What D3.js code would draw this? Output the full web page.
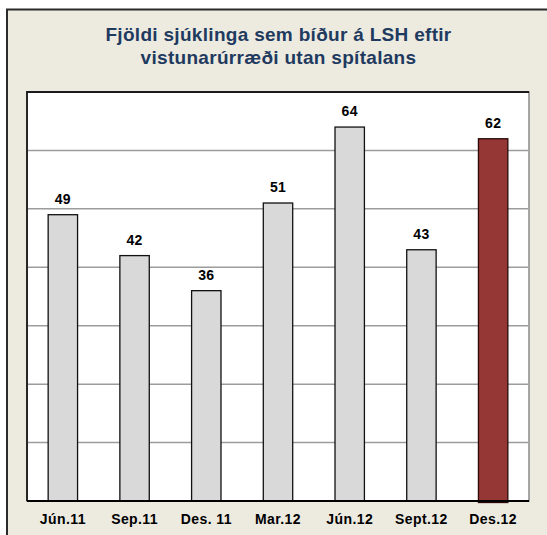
<!DOCTYPE html>
<html>
<head>
<meta charset="utf-8">
<script src="https://cdn.jsdelivr.net/npm/d3@7"></script>
<style>
  html, body { margin: 0; padding: 0; background: #ffffff; }
  svg { display: block; font-family: "Liberation Sans", Arial, sans-serif; }
</style>
</head>
<body>
<svg id="chart" width="547" height="535"></svg>
<script>
const titleLines = ["Fjöldi sjúklinga sem bíður á LSH eftir", "vistunarúrræði utan spítalans"];
const categories = ["Jún.11", "Sep.11", "Des. 11", "Mar.12", "Jún.12", "Sept.12", "Des.12"];
const values = [49, 42, 36, 51, 64, 43, 62];
const highlighted = ["Des.12"];
const yTicks = [0, 10, 20, 30, 40, 50, 60, 70];

const svg = d3.select("#chart");
const plot = { left: 27, right: 529, top: 92, bottom: 501 };

// outer frame
svg.append("rect")
  .attr("x", 7).attr("y", 9.5).attr("width", 600).attr("height", 600)
  .attr("fill", "#EDEAE0").attr("stroke", "#2b2b2b").attr("stroke-width", 2);

// title
const title = svg.append("text")
  .attr("text-anchor", "middle")
  .attr("font-size", 19).attr("font-weight", "bold")
  .attr("letter-spacing", 0.3)
  .attr("fill", "#1F3A5F");
titleLines.forEach((t, i) => {
  title.append("tspan").attr("x", 278.5).attr("y", 40.7 + i * 23.6).text(t);
});

// plot area
svg.append("rect")
  .attr("x", plot.left).attr("y", plot.top)
  .attr("width", plot.right - plot.left).attr("height", plot.bottom - plot.top)
  .attr("fill", "#ffffff").attr("stroke", "#8a8a8a").attr("stroke-width", 1.5);
svg.append("path")
  .attr("d", `M${plot.left},${plot.bottom} V${plot.top} H${plot.right}`)
  .attr("fill", "none").attr("stroke", "#1a1a1a").attr("stroke-width", 1.8);

const y = d3.scaleLinear().domain([0, 70]).range([plot.bottom, plot.top]);
const x = d3.scaleBand().domain(categories)
  .range([plot.left, plot.right]).paddingInner(0.59).paddingOuter(0.295);

// gridlines
svg.append("g").selectAll("line")
  .data(yTicks.filter(t => t > 0 && t < 70))
  .join("line")
  .attr("x1", plot.left + 1).attr("x2", plot.right - 1)
  .attr("y1", d => y(d)).attr("y2", d => y(d))
  .attr("stroke", "#9c9c9c").attr("stroke-width", 1.5);

// bars
svg.append("g").selectAll("rect")
  .data(categories)
  .join("rect")
  .attr("x", d => x(d)).attr("width", x.bandwidth())
  .attr("y", (d, i) => y(values[i]))
  .attr("height", (d, i) => y(0) - y(values[i]) + (highlighted.includes(d) ? 1.5 : 0))
  .attr("fill", d => highlighted.includes(d) ? "#953735" : "#D9D9D9")
  .attr("stroke", d => highlighted.includes(d) ? "#2a0808" : "#111111")
  .attr("stroke-width", 1.3);

// axis baseline
svg.append("line")
  .attr("x1", plot.left).attr("x2", plot.right)
  .attr("y1", plot.bottom).attr("y2", plot.bottom)
  .attr("stroke", "#000").attr("stroke-width", 2);

// value labels
svg.append("g").selectAll("text")
  .data(categories)
  .join("text")
  .attr("x", d => x(d) + x.bandwidth() / 2)
  .attr("y", (d, i) => y(values[i]) - 11)
  .attr("text-anchor", "middle")
  .attr("font-size", 14).attr("font-weight", "bold")
  .attr("letter-spacing", 0.3)
  .attr("fill", "#000")
  .text((d, i) => values[i]);

// category labels
svg.append("g").selectAll("text")
  .data(categories)
  .join("text")
  .attr("x", d => x(d) + x.bandwidth() / 2)
  .attr("y", 524)
  .attr("text-anchor", "middle")
  .attr("font-size", 14).attr("font-weight", "bold")
  .attr("letter-spacing", 0.4)
  .attr("fill", "#000")
  .text(d => d);
</script>
</body>
</html>
